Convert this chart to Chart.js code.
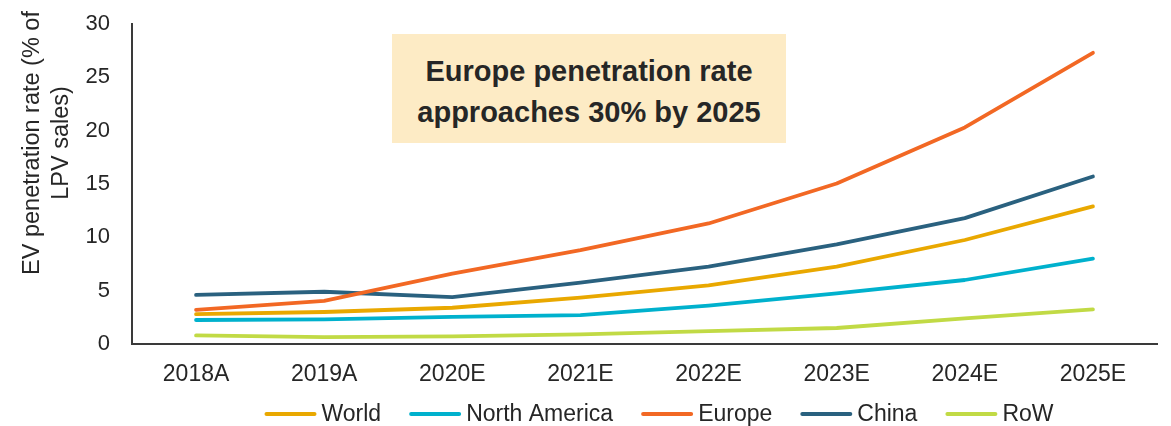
<!DOCTYPE html>
<html>
<head>
<meta charset="utf-8">
<script src="https://cdn.jsdelivr.net/npm/chart.js@4"></script>
<style>
  html, body { margin: 0; padding: 0; background: #ffffff; }
  #wrap { position: relative; width: 1171px; height: 426px; }
  canvas { display: block; }
  #note {
    position: absolute; left: 392px; top: 34px; width: 394px; height: 109px;
    box-sizing: border-box; padding-top: 6px;
    background: #FDEBC5; color: #262626;
    font-family: "Liberation Sans", Arial, sans-serif; font-weight: bold;
    font-size: 29px; line-height: 41px; text-align: center;
    display: flex; align-items: center; justify-content: center;
  }
</style>
</head>
<body>
<div id="wrap">
  <canvas id="c" width="1171" height="426"></canvas>
  <div id="note"><div>Europe penetration rate<br>approaches 30% by 2025</div></div>
</div>
<script>
const categories = ['2018A', '2019A', '2020E', '2021E', '2022E', '2023E', '2024E', '2025E'];
const world        = [2.8, 3.0, 3.4, 4.35, 5.5, 7.25, 9.75, 12.9];
const northAmerica = [2.25, 2.3, 2.55, 2.7, 3.6, 4.75, 6.0, 8.0];
const europe       = [3.2, 4.05, 6.6, 8.8, 11.3, 15.05, 20.3, 27.3];
const china        = [4.6, 4.9, 4.4, 5.75, 7.25, 9.35, 11.8, 15.7];
const rowRegion    = [0.8, 0.65, 0.72, 0.9, 1.2, 1.5, 2.4, 3.25];
const yTicks = [0, 5, 10, 15, 20, 25, 30];
const yTitle = ['EV penetration rate (% of', 'LPV sales)'];

const FONT = '"Liberation Sans", Arial, sans-serif';
const TXT = '#262626';

function ds(label, data, color) {
  return {
    label, data,
    borderColor: color, backgroundColor: color,
    borderWidth: 3.8, pointRadius: 0, tension: 0,
    borderCapStyle: 'round', borderJoinStyle: 'round'
  };
}

// y-axis title, placed beside the axis as in the reference
const yTitlePlugin = {
  id: 'yTitleText',
  afterDraw(chart) {
    const ctx = chart.ctx;
    ctx.save();
    ctx.fillStyle = TXT;
    ctx.font = '23.5px ' + FONT;
    ctx.textAlign = 'center';
    ctx.textBaseline = 'middle';
    ctx.translate(33, 143);
    ctx.rotate(-Math.PI / 2);
    yTitle.forEach((line, i) => ctx.fillText(line, 0, i * 29));
    ctx.restore();
  }
};

// legend row: short line swatch + label, built from the datasets
const lineLegend = {
  id: 'lineLegend',
  afterDraw(chart) {
    const ctx = chart.ctx;
    const sw = 52, gapText = 5, gapItem = 28, cy = 414, cx = 659;
    ctx.save();
    ctx.font = '23px ' + FONT;
    ctx.textBaseline = 'middle';
    ctx.textAlign = 'left';
    const items = chart.data.datasets.map(d => ({ label: d.label, color: d.borderColor, w: ctx.measureText(d.label).width }));
    const total = items.reduce((a, it) => a + sw + gapText + it.w, 0) + gapItem * (items.length - 1);
    let x = cx - total / 2;
    items.forEach(it => {
      ctx.strokeStyle = it.color;
      ctx.lineWidth = 4;
      ctx.lineCap = 'round';
      ctx.beginPath();
      ctx.moveTo(x + 2, cy);
      ctx.lineTo(x + sw - 2, cy);
      ctx.stroke();
      ctx.fillStyle = TXT;
      ctx.fillText(it.label, x + sw + gapText, cy + 1);
      x += sw + gapText + it.w + gapItem;
    });
    ctx.restore();
  }
};

new Chart(document.getElementById('c'), {
  type: 'line',
  data: {
    labels: categories,
    datasets: [
      ds('World', world, '#E9A800'),
      ds('North America', northAmerica, '#00B1CD'),
      ds('Europe', europe, '#F26824'),
      ds('China', china, '#2A617F'),
      ds('RoW', rowRegion, '#C1DA45')
    ]
  },
  plugins: [yTitlePlugin, lineLegend],
  options: {
    responsive: false,
    animation: false,
    layout: { autoPadding: false, padding: { left: 0, right: 14, top: 24, bottom: 38 } },
    plugins: {
      tooltip: { enabled: false },
      legend: { display: false }
    },
    scales: {
      x: {
        offset: true,
        grid: { display: false, drawTicks: false, offset: true },
        border: { display: true, color: '#3a3a3a', width: 2 },
        ticks: { color: TXT, font: { family: FONT, size: 23 }, padding: 17, maxRotation: 0 },
        afterFit(s) { s.height = 44; }
      },
      y: {
        min: 0, max: 30,
        afterBuildTicks(s) { s.ticks = yTicks.map(v => ({ value: v })); },
        grid: { display: false, drawTicks: false },
        border: { display: true, color: '#3a3a3a', width: 2 },
        ticks: { color: TXT, font: { family: FONT, size: 22 }, padding: 22 },
        afterFit(s) { s.width = 132; s.paddingTop = 0; }
      }
    }
  }
});
</script>
</body>
</html>
